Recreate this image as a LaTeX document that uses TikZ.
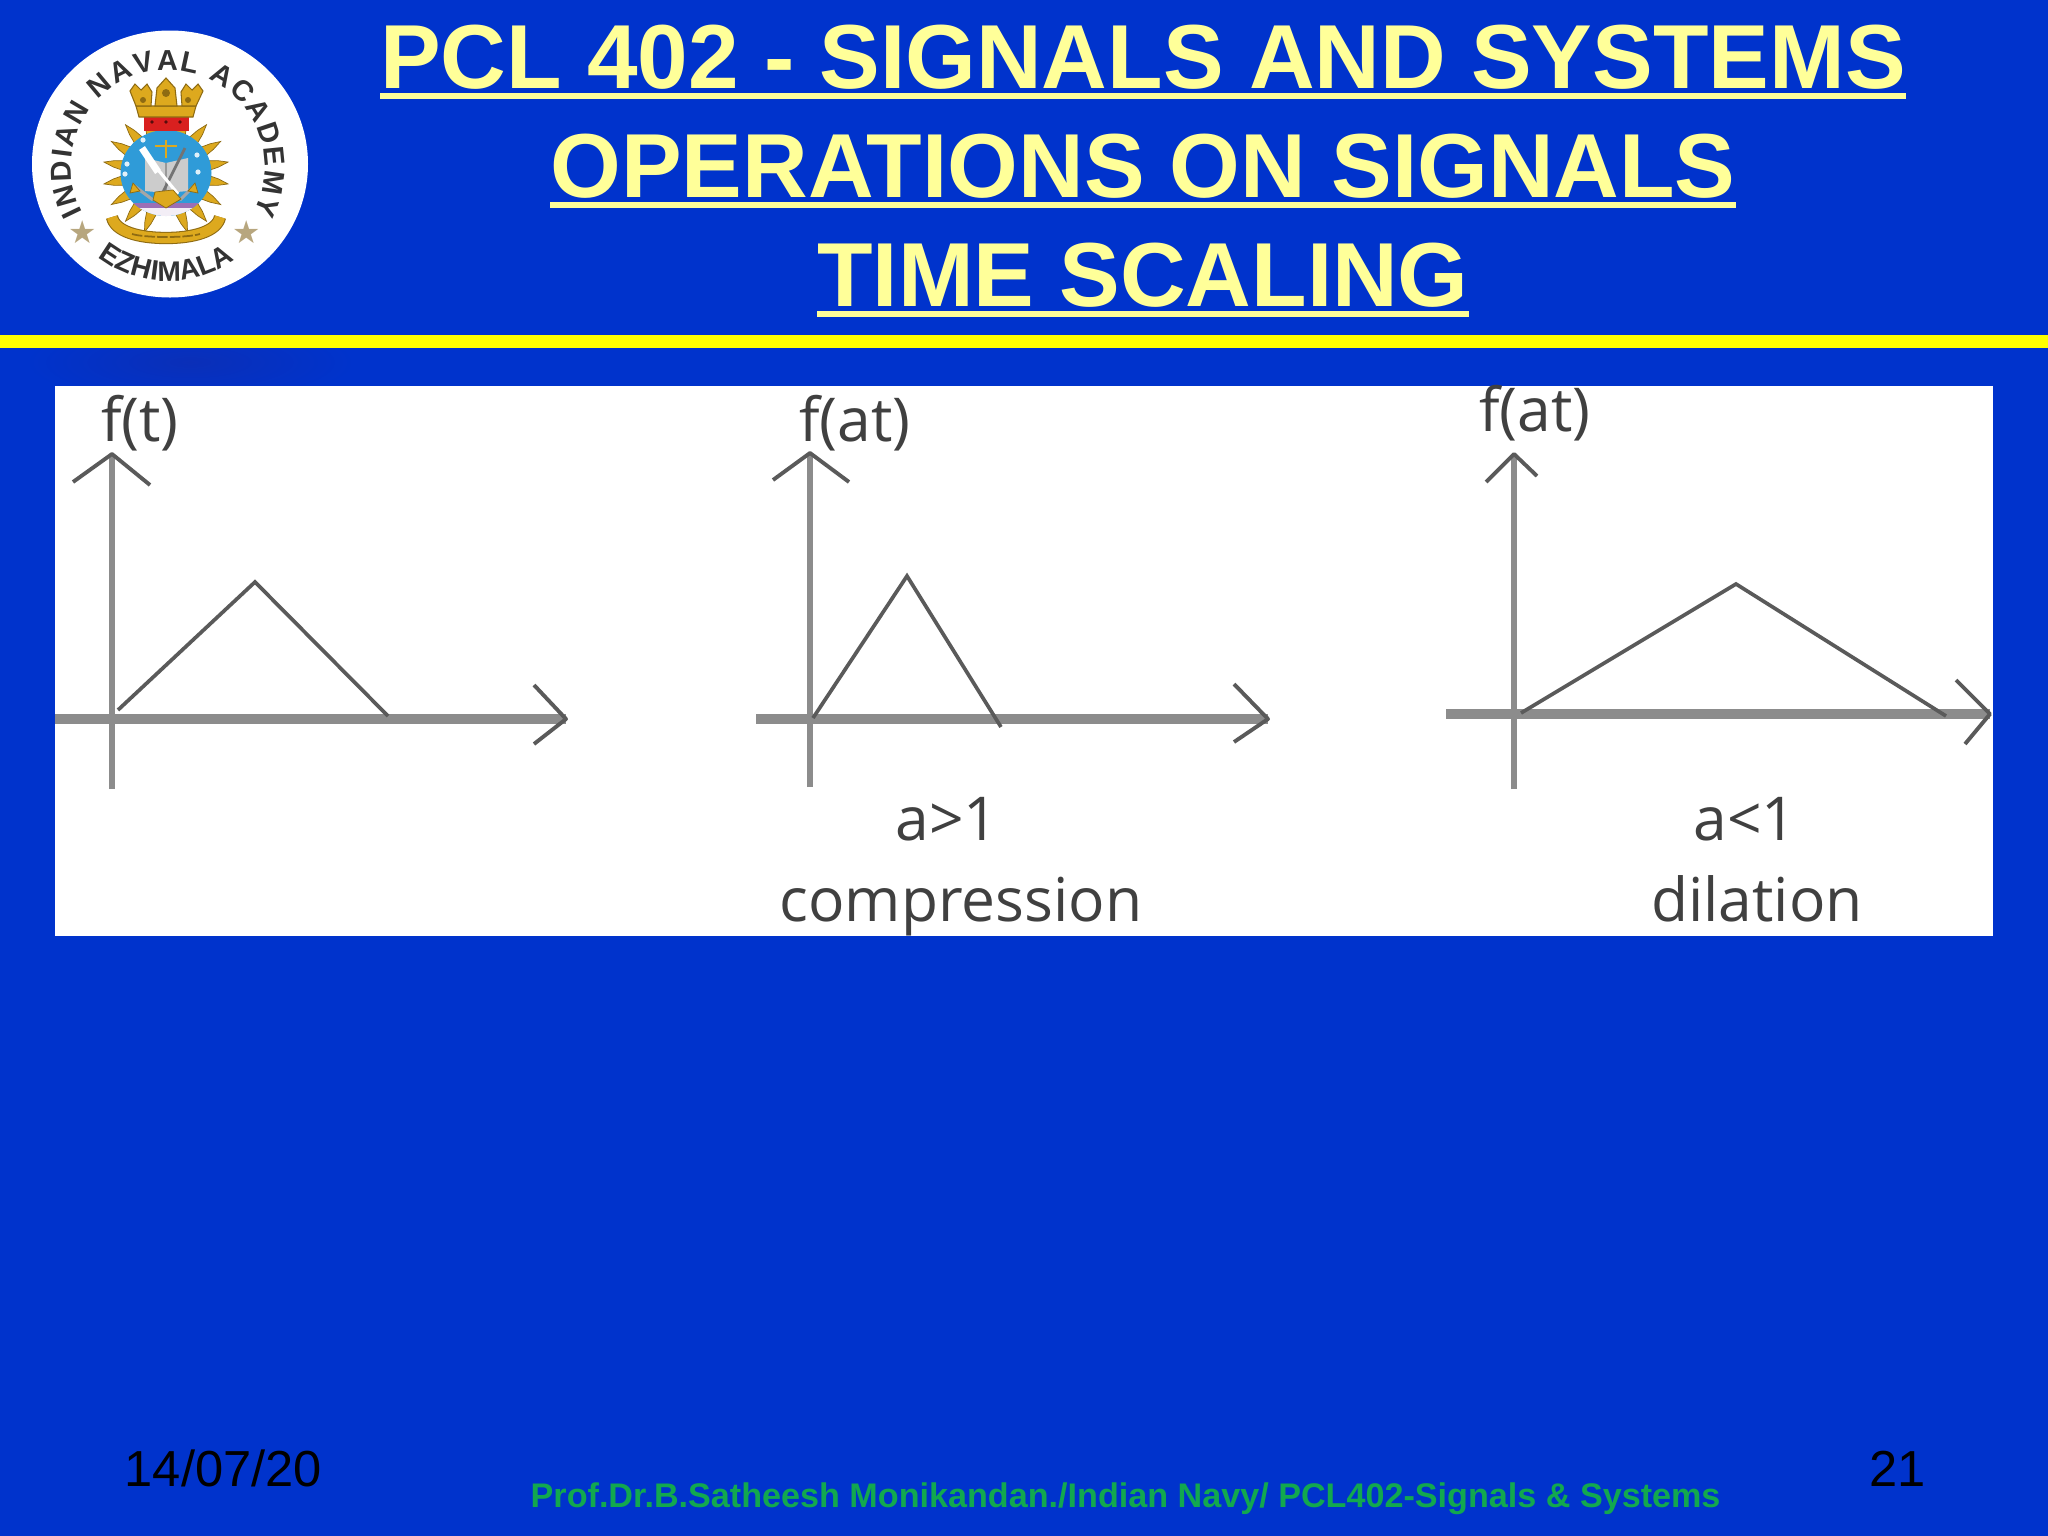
\documentclass[tikz,border=0pt]{standalone}
\usepackage{fontspec}
\setmainfont{Liberation Sans}
\newfontfamily\plotfont{Open Sans}
\usetikzlibrary{decorations.text,calc}
\definecolor{slidebg}{HTML}{0033CC}
\definecolor{slideshadow}{HTML}{0A2FB8}
\definecolor{titlecol}{HTML}{FFFF99}
\definecolor{rulecol}{HTML}{FFFF00}
\definecolor{footgreen}{HTML}{12A84F}
\definecolor{axisgrey}{HTML}{8C8C8C}
\definecolor{curvegrey}{HTML}{5A5A5A}
\definecolor{plottext}{HTML}{404040}
\definecolor{gold}{HTML}{DDA91E}
\definecolor{golddark}{HTML}{8E6B12}
\definecolor{crestblue}{HTML}{2F9BD8}
\definecolor{crestred}{HTML}{D9201F}
\definecolor{crestpurple}{HTML}{9C6FB5}
\definecolor{startan}{HTML}{B7A67E}
\newcommand{\ulined}[1]{\setbox0\hbox{#1}\rlap{\rule[-0.12em]{\wd0}{0.065em}}\box0}
\newcommand{\pxfont}[1]{\fontsize{#1}{#1}\selectfont}
\tikzset{
  x=0.01cm,y=0.01cm,
  titletext/.style={anchor=base,inner sep=0,text=titlecol,font=\pxfont{25.85pt}\bfseries},
  foottext/.style={anchor=base west,inner sep=0,text=black,font=\pxfont{14.4pt}},
  greentext/.style={anchor=base west,inner sep=0,text=footgreen,font=\pxfont{9.71pt}\bfseries},
  plotlabel/.style={anchor=base,inner sep=0,text=plottext,font=\plotfont\pxfont{17.2pt}},
  vaxis/.style={draw=axisgrey,line width=1.5pt},
  haxis/.style={draw=axisgrey,line width=2.6pt},
  tip/.style={draw=curvegrey,line width=1.1pt,line join=round},
  curve/.style={draw=curvegrey,line width=1.05pt,line join=miter},
  leaf/.style={fill=gold,draw=golddark,line width=0.2pt},
  sail/.style={fill=gold,draw=golddark,line width=0.3pt},
}
\begin{document}
\begin{tikzpicture}
\useasboundingbox (0,0) rectangle (2048,-1536);
\fill[slidebg] (0,0) rectangle (2048,-1536);
% soft shadow under the rule
\begin{scope}
\clip (0,-348) rectangle (500,-387);
\shade[inner color=slideshadow,outer color=slidebg] (190,-362) ellipse [x radius=165,y radius=42];
\end{scope}
\fill[rulecol] (0,-335) rectangle (2048,-348);
% ---------- titles
\node[titletext] (t1) at (1143,-88) {\ulined{PCL 402 - SIGNALS AND SYSTEMS}};
\node[titletext] (t2) at (1143,-197) {\ulined{OPERATIONS ON SIGNALS}};
\node[titletext] (t3) at (1143,-306) {\ulined{TIME SCALING}};
% ---------- crest
\fill[white] (170,-164) ellipse [x radius=138,y radius=133.5];
\path[decorate,decoration={text along path,text align={fit to path},
  text={|\pxfont{8.2pt}\bfseries\color{black!80}|INDIAN NAVAL ACADEMY}}]
  (168,-167) ++(208:97) arc [start angle=208,end angle=-28,radius=97];
\path[decorate,decoration={text along path,text align={fit to path},
  text={|\pxfont{8pt}\bfseries\color{black!80}|EZHIMALA}}]
  (168,-167) ++(232:114) arc [start angle=232,end angle=306,radius=114];
\foreach \sx in {83,247}
  \node[inner sep=0,text=startan,font=\fontspec{DejaVu Sans}\pxfont{9pt}] at (\sx,-232) {★};
% rays
\coordinate (cc) at (166,-173);
\foreach \a in {-70,-50,...,250}{
  \fill[leaf] ($(cc)+(\a-7:42)$) -- ($(cc)+(\a-3.5:53)$) -- ($(cc)+(\a:63)$) -- ($(cc)+(\a+3.5:53)$) -- ($(cc)+(\a+7:42)$) -- cycle;
}
% crest disc
\begin{scope}
\clip (166,-173) ellipse [x radius=45.5,y radius=43];
\fill[crestblue] (120,-130) rectangle (212,-217);
\fill[crestpurple] (120,-203) rectangle (212,-208);
\fill[white!88!crestpurple] (120,-208) rectangle (212,-217);
\end{scope}
\foreach \sx/\sy in {143/140,127/164,125/174,197/155,198/172}
  \fill[white!85!crestblue] (\sx,-\sy) circle (2.6);
% book, cross, oar, sword, anchor
\fill[black!20] (145,-158) -- (166,-163) -- (188,-158) -- (188,-191) -- (166,-193) -- (145,-191) -- cycle;
\draw[black!40,line width=0.3pt] (166,-163) -- (166,-193);
\draw[gold,line width=0.7pt] (166,-140) -- (166,-158) (155,-146) -- (177,-146);
\draw[black!55,line width=0.8pt] (185,-148) -- (162,-194);
\draw[white,line width=0.9pt] (150,-160) -- (178,-194);
\draw[white,line width=2pt] (142,-148) -- (158,-172);
\draw[black!35,line width=0.9pt] (133,-185) -- (153,-200);
\draw[black!35,line width=0.9pt] (195,-185) -- (180,-200);
\fill[gold,draw=golddark,line width=0.2pt] (133,-183) -- (130,-193) -- (140,-191) -- cycle;
\fill[gold,draw=golddark,line width=0.2pt] (195,-183) -- (198,-193) -- (188,-191) -- cycle;
\fill[gold,draw=golddark,line width=0.2pt] (155,-192) -- (173,-190) -- (181,-199) -- (166,-208) -- (153,-200) -- cycle;
% crown
\fill[crestred] (144,-117) rectangle (189,-131);
\fill[black!60!crestred] (152,-122) circle (1.8) (166,-122) circle (1.8) (180,-122) circle (1.8);
\fill[sail] (139,-117) -- (193,-117) -- (196,-106) -- (136,-106) -- cycle;
\fill[sail] (136,-106) -- (130,-91) -- (135,-84) -- (141,-90) -- (147,-84) -- (152,-92) -- (151,-106) -- cycle;
\fill[sail] (196,-106) -- (203,-91) -- (198,-84) -- (192,-90) -- (186,-84) -- (181,-92) -- (182,-106) -- cycle;
\fill[sail] (155,-106) -- (157,-88) -- (166,-78) -- (175,-88) -- (177,-106) -- cycle;
\fill[golddark] (143,-100) circle (3) (188,-100) circle (3) (166,-93) circle (4);
% ribbon
\draw[golddark,line width=3.5pt] (112,-217) .. controls (115,-232) and (140,-238) .. (166,-238) .. controls (192,-238) and (217,-232) .. (220,-217);
\draw[gold,line width=2.9pt] (112,-217) .. controls (115,-232) and (140,-238) .. (166,-238) .. controls (192,-238) and (217,-232) .. (220,-217);
\draw[golddark,line width=0.5pt,dash pattern=on 3pt off 0.6pt] (132,-234) .. controls (145,-238) and (187,-238) .. (200,-234);
% ---------- picture panel
\fill[white] (55,-386) rectangle (1993,-935.5);
% panel 1
\coordinate (a1t) at (112,-454);
\coordinate (a1b) at (112,-789);
\coordinate (a1l) at (55,-719);
\coordinate (a1r) at (566,-719);
\coordinate (h1a) at (73,-482);
\coordinate (h1b) at (150,-485);
\coordinate (r1a) at (534,-685);
\coordinate (r1b) at (534,-744);
\coordinate (c1a) at (118,-710);
\coordinate (c1b) at (255,-582);
\coordinate (c1c) at (388,-716);
\draw[haxis] (a1l) -- (a1r);
\draw[vaxis] (a1b) -- (a1t);
\draw[tip] (h1a) -- (a1t) -- (h1b);
\draw[tip] (r1a) -- (a1r) -- (r1b);
\draw[curve] (c1a) -- (c1b) -- (c1c);
\node[plotlabel] (l1) at (140,-441) {f(t)};
% panel 2
\coordinate (a2t) at (810,-453);
\coordinate (a2b) at (810,-787);
\coordinate (a2l) at (756,-719);
\coordinate (a2r) at (1268,-719);
\coordinate (h2a) at (773,-480);
\coordinate (h2b) at (849,-482);
\coordinate (r2a) at (1234,-684);
\coordinate (r2b) at (1234,-742);
\coordinate (c2a) at (813,-718);
\coordinate (c2b) at (907,-576);
\coordinate (c2c) at (1001,-727);
\draw[haxis] (a2l) -- (a2r);
\draw[vaxis] (a2b) -- (a2t);
\draw[tip] (h2a) -- (a2t) -- (h2b);
\draw[tip] (r2a) -- (a2r) -- (r2b);
\draw[curve] (c2a) -- (c2b) -- (c2c);
\node[plotlabel] (l2) at (855,-441) {f(at)};
\node[plotlabel] (l2a) at (947,-840) {a>1};
\node[plotlabel] (l2b) at (961,-921) {compression};
% panel 3
\coordinate (a3t) at (1514,-454);
\coordinate (a3b) at (1514,-789);
\coordinate (a3l) at (1446,-714);
\coordinate (a3r) at (1990,-714);
\coordinate (h3a) at (1486,-482);
\coordinate (h3b) at (1537,-476);
\coordinate (r3a) at (1956,-680);
\coordinate (r3b) at (1965,-744);
\coordinate (c3a) at (1521,-713);
\coordinate (c3b) at (1736,-584);
\coordinate (c3c) at (1946,-716);
\draw[haxis] (a3l) -- (a3r);
\draw[vaxis] (a3b) -- (a3t);
\draw[tip] (h3a) -- (a3t) -- (h3b);
\draw[tip] (r3a) -- (a3r) -- (r3b);
\draw[curve] (c3a) -- (c3b) -- (c3c);
\node[plotlabel] (l3) at (1535,-431) {f(at)};
\node[plotlabel] (l3a) at (1745,-840) {a<1};
\node[plotlabel] (l3b) at (1757,-921) {dilation};
% ---------- footer
\node[foottext] (date) at (124,-1486) {14/07/20};
\node[foottext] (page) at (1869,-1486) {21};
\node[greentext] (foot) at (530,-1507) {Prof.Dr.B.Satheesh Monikandan./Indian Navy/ PCL402-Signals \& Systems};
\end{tikzpicture}
\end{document}
